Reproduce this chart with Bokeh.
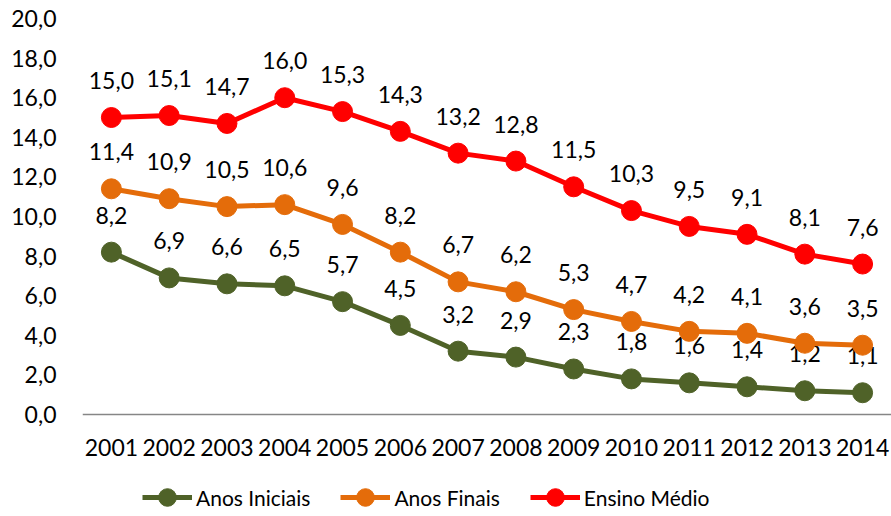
from bokeh.plotting import figure
from bokeh.models import (ColumnDataSource, FactorRange, Range1d, FixedTicker,
                          CustomJSTickFormatter, Legend, LegendItem)
from bokeh.core.properties import value
from bokeh.embed import file_html
from bokeh.resources import INLINE

years = [str(y) for y in range(2001, 2015)]
anos_iniciais = [8.2, 6.9, 6.6, 6.5, 5.7, 4.5, 3.2, 2.9, 2.3, 1.8, 1.6, 1.4, 1.2, 1.1]
anos_finais = [11.4, 10.9, 10.5, 10.6, 9.6, 8.2, 6.7, 6.2, 5.3, 4.7, 4.2, 4.1, 3.6, 3.5]
ensino_medio = [15.0, 15.1, 14.7, 16.0, 15.3, 14.3, 13.2, 12.8, 11.5, 10.3, 9.5, 9.1, 8.1, 7.6]
y_ticks = [0, 2, 4, 6, 8, 10, 12, 14, 16, 18, 20]

series = [
    ("Anos Iniciais", anos_iniciais, "#4F6228"),
    ("Anos Finais", anos_finais, "#E46C0A"),
    ("Ensino Médio", ensino_medio, "#FF0000"),
]

FONT = "Lato"
FS = "23px"

# frame extends below zero to host the legend; x axis is pinned at y = 0
p = figure(x_range=FactorRange(*years), y_range=Range1d(-5.15, 20),
           width=891, height=516, output_backend="svg", toolbar_location=None,
           min_border_left=82, min_border_right=0, min_border_top=18, min_border_bottom=0)
p.outline_line_color = None
p.xgrid.grid_line_color = None
p.ygrid.grid_line_color = None

p.yaxis.ticker = FixedTicker(ticks=y_ticks)
p.yaxis.formatter = CustomJSTickFormatter(code="return tick.toFixed(1).replace('.', ',');")
p.yaxis.axis_line_color = None
p.yaxis.major_tick_line_color = None
p.yaxis.minor_tick_line_color = None
p.yaxis.major_label_standoff = 20
p.yaxis.major_label_text_font = FONT
p.yaxis.major_label_text_font_size = FS
p.yaxis.major_label_text_color = "#000000"

p.xaxis.fixed_location = 0
p.xaxis.axis_line_color = "#868686"
p.xaxis.axis_line_width = 1.5
p.xaxis.major_tick_line_color = None
p.xaxis.minor_tick_line_color = None
p.xaxis.major_label_standoff = 18
p.xaxis.major_label_text_font = FONT
p.xaxis.major_label_text_font_size = FS
p.xaxis.major_label_text_color = "#000000"

items = []
for name, vals, color in series:
    src = ColumnDataSource(dict(x=years, y=vals,
                                lab=[f"{v:.1f}".replace('.', ',') for v in vals]))
    l = p.line("x", "y", source=src, line_color=color, line_width=5)
    c = p.scatter("x", "y", source=src, size=20, fill_color=color, line_color=color)
    p.text("x", "y", text="lab", source=src, y_offset=-37, text_align="center",
           text_baseline="middle", text_font=value(FONT), text_font_size=FS,
           text_color="#000000")
    items.append(LegendItem(label=name, renderers=[l, c]))

legend = Legend(items=items, orientation="horizontal", location=(60, -3),
                glyph_width=50, glyph_height=44, label_standoff=4, spacing=30,
                label_text_font=FONT, label_text_font_size="21px",
                label_text_color="#000000",
                border_line_color=None, background_fill_alpha=0,
                padding=0, margin=0)
p.add_layout(legend, "center")

open("out.html", "w").write(file_html(p, INLINE))
